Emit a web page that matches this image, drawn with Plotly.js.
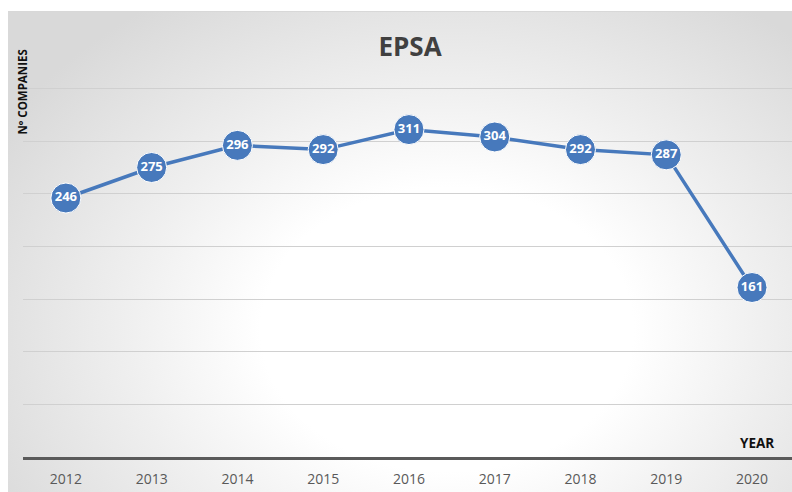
<!DOCTYPE html>
<html>
<head>
<meta charset="utf-8">
<script src="https://cdn.plot.ly/plotly-3.0.1.min.js"></script>
<style>
  html, body { margin: 0; padding: 0; background: #ffffff; }
  #wrap { position: relative; width: 792px; height: 492px; overflow: hidden; }
  #bg { position: absolute; left: 8px; top: 11px; width: 784px; height: 481px;
        border-top: 1px solid #d8d8d8;
        background: radial-gradient(ellipse 66% 82% at 56% 66%, #ffffff 0%, #ffffff 36%, #efefef 62%, #d9d9d9 100%); }
  #chart { position: absolute; left: 0; top: 0; width: 792px; height: 492px; }
</style>
</head>
<body>
<div id="wrap">
  <div id="bg"></div>
  <div id="chart"></div>
</div>
<script>
const years = ['2012', '2013', '2014', '2015', '2016', '2017', '2018', '2019', '2020'];
const companies = [246, 275, 296, 292, 311, 304, 292, 287, 161];
const gridValues = [50, 100, 150, 200, 250, 300, 350];
const chartTitle = 'EPSA';
const yTitle = 'Nº COMPANIES';
const xTitle = 'YEAR';

const blue = '#4779BC';

const trace = {
  x: years,
  y: companies,
  type: 'scatter',
  mode: 'lines+markers+text',
  text: companies.map(String),
  textposition: 'middle center',
  textfont: { family: 'Open Sans', size: 13, color: '#ffffff', weight: 'bold' },
  line: { color: blue, width: 3.5 },
  marker: { size: 30, color: blue, line: { color: '#ffffff', width: 1 } },
  cliponaxis: false,
  hoverinfo: 'x+y'
};

const plotH = 492 - 77.5 - 35;

const layout = {
  width: 792,
  height: 492,
  margin: { l: 23, r: 0, t: 77.5, b: 35 },
  paper_bgcolor: 'rgba(0,0,0,0)',
  plot_bgcolor: 'rgba(0,0,0,0)',
  showlegend: false,
  title: {
    text: chartTitle,
    font: { family: 'Open Sans', size: 26, color: '#404040', weight: 'bold' },
    x: 410 / 792, xanchor: 'center', xref: 'container',
    y: 1 - 47 / 492, yanchor: 'middle', yref: 'container'
  },
  xaxis: {
    type: 'category',
    range: [-0.5, 8.466],
    showgrid: false,
    zeroline: false,
    showline: true,
    linecolor: '#5a5a5a',
    linewidth: 2.5,
    ticks: '',
    ticklabelstandoff: 8,
    tickfont: { family: 'Open Sans', size: 14, color: '#595959' },
    fixedrange: true
  },
  yaxis: {
    range: [0, 360],
    tickvals: gridValues,
    showgrid: true,
    gridcolor: '#d0d0d0',
    gridwidth: 1,
    zeroline: false,
    showticklabels: false,
    showline: false,
    ticks: '',
    fixedrange: true
  },
  annotations: [
    {
      text: yTitle, xref: 'paper', yref: 'paper',
      x: (22 - 23) / 769, y: (457 - 92) / plotH,
      xanchor: 'center', yanchor: 'middle', textangle: -90, showarrow: false,
      font: { family: 'Open Sans', size: 11.5, color: '#111111', weight: 'bold' }
    },
    {
      text: xTitle, xref: 'paper', yref: 'paper',
      x: (757 - 23) / 769, y: (457 - 443) / plotH,
      xanchor: 'center', yanchor: 'middle', showarrow: false,
      font: { family: 'Open Sans', size: 13.5, color: '#111111', weight: 'bold' }
    }
  ]
};

Plotly.newPlot('chart', [trace], layout, { displayModeBar: false, staticPlot: true });
</script>
</body>
</html>
